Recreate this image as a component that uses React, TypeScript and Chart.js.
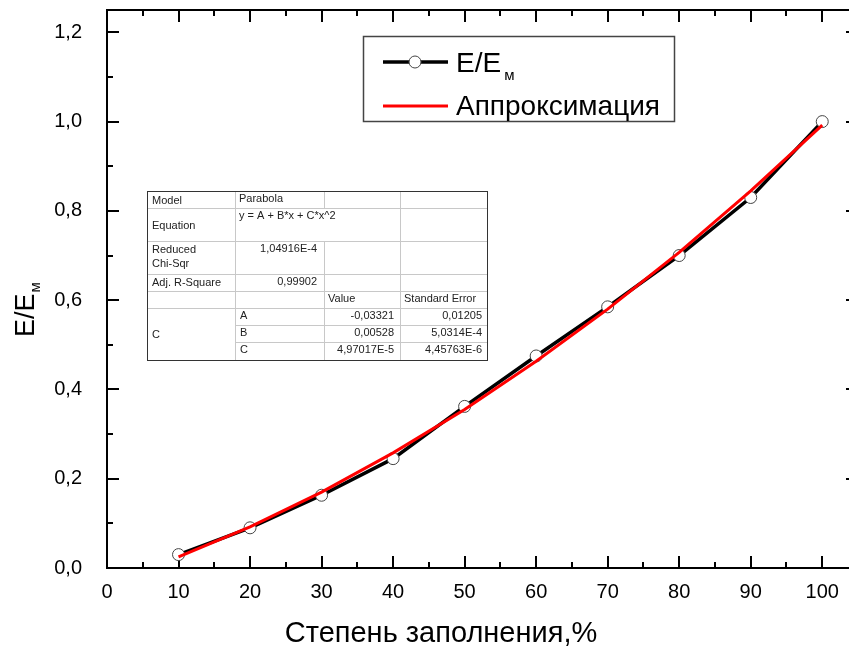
import React, { useEffect, useRef } from 'react';
import { Chart, registerables } from 'chart.js';

Chart.register(...registerables);

// ---- data ----
const xValues = [10, 20, 30, 40, 50, 60, 70, 80, 90, 100];
const ratioValues = [0.03, 0.09, 0.163, 0.245, 0.362, 0.475, 0.585, 0.7, 0.83, 1.0];
const fitValues = [0.025, 0.092, 0.17, 0.258, 0.355, 0.463, 0.58, 0.707, 0.845, 0.992];
const xTickValues = [0, 10, 20, 30, 40, 50, 60, 70, 80, 90, 100];
const xMinorValues = [5, 15, 25, 35, 45, 55, 65, 75, 85, 95, 105];
const yTickValues = [0, 0.2, 0.4, 0.6, 0.8, 1.0, 1.2];
const yMinorValues = [0.1, 0.3, 0.5, 0.7, 0.9, 1.1];

const xTitle = 'Степень заполнения,%';
const yTitleMain = 'E/E';
const yTitleSub = 'м';
const legendLabels = ['E/E', 'Аппроксимация'];

// fit report table
const tModel = ['Model', 'Parabola'];
const tEquation = ['Equation', 'y = A + B*x + C*x^2'];
const tChi = ['Reduced', 'Chi-Sqr', '1,04916E-4'];
const tAdjR = ['Adj. R-Square', '0,99902'];
const tHeader = ['Value', 'Standard Error'];
const tParamGroup = 'C';
const tParamNames = ['A', 'B', 'C'];
const tParamValues = ['-0,03321', '0,00528', '4,97017E-5'];
const tParamErrors = ['0,01205', '5,0314E-4', '4,45763E-6'];

const FONT = '"Liberation Sans", Arial, sans-serif';

const framePlugin = {
  id: 'frame',
  beforeDatasetsDraw(chart: any) {
    const { ctx, chartArea: a, scales } = chart;
    const xs = scales.x;
    const ys = scales.y;
    ctx.save();
    ctx.strokeStyle = '#000';
    ctx.lineWidth = 2;
    ctx.strokeRect(a.left, a.top, a.right - a.left, a.bottom - a.top);
    ctx.lineWidth = 2;
    ctx.beginPath();
    const major = 12;
    const minor = 6;
    xTickValues.forEach((v) => {
      const px = Math.round(xs.getPixelForValue(v));
      ctx.moveTo(px, a.bottom); ctx.lineTo(px, a.bottom - major);
      ctx.moveTo(px, a.top); ctx.lineTo(px, a.top + major);
    });
    xMinorValues.forEach((v) => {
      const px = Math.round(xs.getPixelForValue(v));
      ctx.moveTo(px, a.bottom); ctx.lineTo(px, a.bottom - minor);
      ctx.moveTo(px, a.top); ctx.lineTo(px, a.top + minor);
    });
    yTickValues.forEach((v) => {
      const py = Math.round(ys.getPixelForValue(v));
      ctx.moveTo(a.left, py); ctx.lineTo(a.left + major, py);
      ctx.moveTo(a.right, py); ctx.lineTo(a.right - major, py);
    });
    yMinorValues.forEach((v) => {
      const py = Math.round(ys.getPixelForValue(v));
      ctx.moveTo(a.left, py); ctx.lineTo(a.left + minor, py);
      ctx.moveTo(a.right, py); ctx.lineTo(a.right - minor, py);
    });
    ctx.stroke();

    // axis titles
    ctx.fillStyle = '#000';
    ctx.textBaseline = 'alphabetic';
    ctx.font = `29px ${FONT}`;
    ctx.textAlign = 'center';
    ctx.fillText(xTitle, 441, 642);

    ctx.save();
    ctx.translate(34, 337);
    ctx.rotate(-Math.PI / 2);
    ctx.textAlign = 'left';
    ctx.font = `27px ${FONT}`;
    ctx.fillText(yTitleMain, 0, 0);
    const w = ctx.measureText(yTitleMain).width;
    ctx.font = `15px ${FONT}`;
    ctx.fillText(yTitleSub, w + 1, 6);
    ctx.restore();
    ctx.restore();
  },
  afterDraw(chart: any) {
    const { ctx } = chart;
    ctx.save();
    // legend
    ctx.fillStyle = '#fff';
    ctx.fillRect(363, 36, 312, 86);
    ctx.strokeStyle = '#444';
    ctx.lineWidth = 1.5;
    ctx.strokeRect(363.5, 36.5, 311, 85);
    ctx.lineCap = 'butt';
    ctx.strokeStyle = '#000';
    ctx.lineWidth = 3.5;
    ctx.beginPath(); ctx.moveTo(383, 62); ctx.lineTo(448, 62); ctx.stroke();
    ctx.fillStyle = '#fff';
    ctx.strokeStyle = '#444';
    ctx.lineWidth = 1;
    ctx.beginPath(); ctx.arc(415, 62, 6, 0, Math.PI * 2); ctx.fill(); ctx.stroke();
    ctx.strokeStyle = '#ff0000';
    ctx.lineWidth = 3;
    ctx.beginPath(); ctx.moveTo(383, 106); ctx.lineTo(448, 106); ctx.stroke();
    ctx.fillStyle = '#000';
    ctx.textAlign = 'left';
    ctx.textBaseline = 'alphabetic';
    ctx.font = `28px ${FONT}`;
    ctx.fillText(legendLabels[0], 456, 72);
    const lw = ctx.measureText(legendLabels[0]).width;
    ctx.font = `15px ${FONT}`;
    ctx.fillText(yTitleSub, 456 + lw + 3, 80);
    ctx.font = `28px ${FONT}`;
    ctx.fillText(legendLabels[1], 456, 115);

    // table
    const c = [147, 235, 324, 400, 487];
    const r = [191, 208, 241, 274, 291, 308, 325, 342, 360];
    ctx.fillStyle = '#fff';
    ctx.fillRect(c[0], r[0], c[4] - c[0], r[8] - r[0]);
    ctx.strokeStyle = '#c8c8c8';
    ctx.lineWidth = 1;
    const line = (x1: number, y1: number, x2: number, y2: number) => {
      ctx.beginPath(); ctx.moveTo(x1 + 0.5, y1 + 0.5); ctx.lineTo(x2 + 0.5, y2 + 0.5); ctx.stroke();
    };
    for (let i = 1; i <= 5; i++) line(c[0], r[i], c[4], r[i]);
    for (let i = 6; i <= 7; i++) line(c[1], r[i], c[4], r[i]);
    line(c[1], r[0], c[1], r[8]);
    line(c[2], r[0], c[2], r[1]);
    line(c[2], r[2], c[2], r[8]);
    line(c[3], r[0], c[3], r[8]);
    ctx.strokeStyle = '#333';
    ctx.strokeRect(c[0] + 0.5, r[0] + 0.5, c[4] - c[0], r[8] - r[0]);

    ctx.fillStyle = '#222';
    ctx.font = `11px ${FONT}`;
    const L = (t: string, x: number, y: number) => { ctx.textAlign = 'left'; ctx.fillText(t, x, y); };
    const R = (t: string, x: number, y: number) => { ctx.textAlign = 'right'; ctx.fillText(t, x, y); };
    L(tModel[0], c[0] + 5, 204);
    L(tModel[1], c[1] + 4, 202);
    L(tEquation[0], c[0] + 5, 229);
    L(tEquation[1], c[1] + 4, 219);
    L(tChi[0], c[0] + 5, 253);
    L(tChi[1], c[0] + 5, 267);
    R(tChi[2], c[2] - 7, 252);
    L(tAdjR[0], c[0] + 5, 286);
    R(tAdjR[1], c[2] - 7, 285);
    L(tHeader[0], c[2] + 4, 302);
    L(tHeader[1], c[3] + 4, 302);
    L(tParamGroup, c[0] + 5, 338);
    const base = [319, 336, 353];
    tParamNames.forEach((n, i) => {
      L(n, c[1] + 5, base[i]);
      R(tParamValues[i], c[3] - 6, base[i]);
      R(tParamErrors[i], c[4] - 5, base[i]);
    });
    ctx.restore();
  },
};

export default function App() {
  const ref = useRef<HTMLCanvasElement>(null);
  useEffect(() => {
    const chart = new Chart(ref.current!, {
      type: 'line',
      data: {
        datasets: [
          {
            label: legendLabels[0],
            data: xValues.map((x, i) => ({ x, y: ratioValues[i] })),
            borderColor: '#000',
            borderWidth: 3.5,
            pointRadius: 6,
            pointBackgroundColor: '#fff',
            pointBorderColor: '#444',
            pointBorderWidth: 1,
            order: 2,
          },
          {
            label: legendLabels[1],
            data: xValues.map((x, i) => ({ x, y: fitValues[i] })),
            borderColor: '#ff0000',
            borderWidth: 3,
            pointRadius: 0,
            order: 1,
          },
        ],
      },
      options: {
        animation: false,
        responsive: false,
        devicePixelRatio: 1,
        layout: { padding: { top: 10, right: 2, left: 0, bottom: 0 } },
        plugins: { legend: { display: false }, tooltip: { enabled: false }, title: { display: false } },
        scales: {
          x: {
            type: 'linear',
            min: 0,
            max: 105,
            grid: { display: false, drawTicks: false },
            border: { display: false },
            afterBuildTicks: (s: any) => { s.ticks = xTickValues.map((v) => ({ value: v })); },
            afterFit: (s: any) => { s.height = 80; s.paddingLeft = 0; s.paddingRight = 0; },
            ticks: {
              autoSkip: false,
              maxRotation: 0,
              padding: 12,
              color: '#000',
              font: { size: 20, family: FONT },
              callback: (v: any) => String(v),
            },
          },
          y: {
            type: 'linear',
            min: 0,
            max: 1.25,
            grid: { display: false, drawTicks: false },
            border: { display: false },
            afterBuildTicks: (s: any) => { s.ticks = yTickValues.map((v) => ({ value: v })); },
            afterFit: (s: any) => { s.width = 107; s.paddingTop = 0; s.paddingBottom = 0; },
            ticks: {
              autoSkip: false,
              padding: 25,
              color: '#000',
              font: { size: 20, family: FONT },
              callback: (v: any) => Number(v).toFixed(1).replace('.', ','),
            },
          },
        },
      },
      plugins: [framePlugin],
    });
    return () => chart.destroy();
  }, []);
  return (
    <div style={{ position: 'fixed', left: 0, top: 0, width: 849, height: 648, overflow: 'hidden', background: '#fff' }}>
      <canvas ref={ref} width={865} height={648} style={{ display: 'block', width: 865, height: 648 }} />
    </div>
  );
}
